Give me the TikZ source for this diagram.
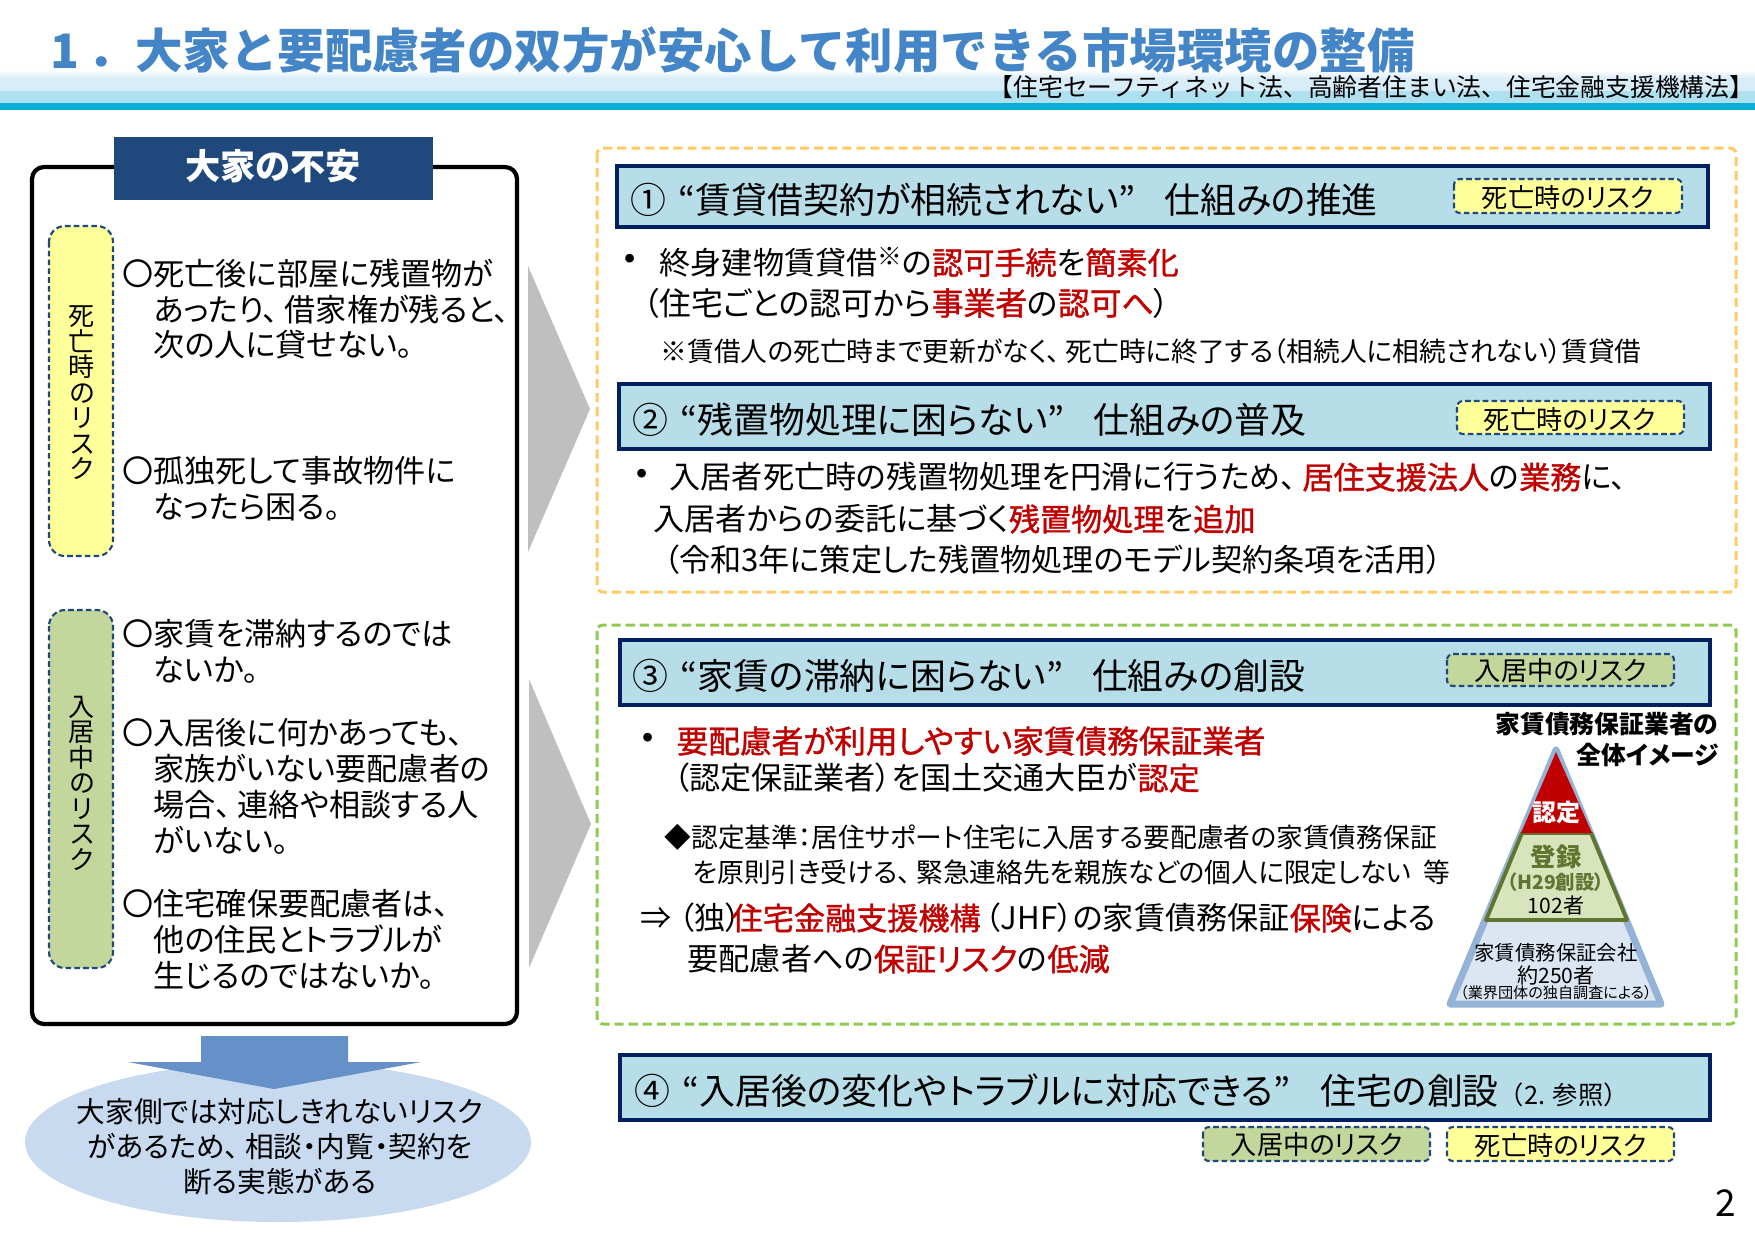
\documentclass[tikz,border=0pt]{standalone}
\usepackage{fontspec}
\setmainfont[RawFeature=+palt]{Noto Sans CJK JP}
\newfontfamily\plainjp{Noto Sans CJK JP}
\newfontfamily\redjp[RawFeature=+palt, FakeBold=1.2]{Noto Sans CJK JP}
\definecolor{titleblue}{HTML}{4485C7}
\definecolor{navy}{HTML}{1F497D}
\definecolor{boxnavy}{HTML}{002060}
\definecolor{hdrfill}{HTML}{B7DDE8}
\definecolor{deathfill}{HTML}{FFFF99}
\definecolor{stayfill}{HTML}{C3D69B}
\definecolor{orangedash}{HTML}{FFC965}
\definecolor{greendash}{HTML}{8FCB50}
\definecolor{redtxt}{HTML}{C00000}
\definecolor{pyrline}{HTML}{95B3D7}
\definecolor{pyrfill}{HTML}{DCE6F2}
\definecolor{regfill}{HTML}{D7E4BC}
\definecolor{regline}{HTML}{5F7530}
\definecolor{bandlight}{HTML}{D9EDF9}
\definecolor{bandmid}{HTML}{AFE0EF}
\definecolor{bandteal}{HTML}{0AADD3}
\definecolor{arrowblue}{HTML}{6590C8}
\definecolor{ovalblue}{HTML}{C8DAEF}
\newcommand{\rd}[1]{\textcolor{redtxt}{\redjp #1}}
\newcommand{\maru}{\makebox[0pt][r]{〇}}
\newcommand{\tn}{、\hspace{.2em}}
\tikzset{
  txt/.style={inner sep=0pt, anchor=north west, align=left, font=\fontsize{8.85}{10.2}\selectfont},
  bodyline/.style={inner sep=0pt, anchor=west, font=\fontsize{8.85}{10.2}\selectfont},
  noteline/.style={inner sep=0pt, anchor=west, font=\fontsize{7.6}{9}\selectfont},
  hdrbox/.style={draw=boxnavy, fill=hdrfill, line width=1pt},
  hdrtext/.style={inner sep=0pt, anchor=west, font=\fontsize{10.2}{12}\selectfont},
  tagtext/.style={inner sep=0pt, font=\fontsize{7.45}{8}\selectfont},
  vertext/.style={inner sep=0pt, align=center, font=\fontsize{7.4}{7.25}\selectfont},
  riskbox/.style={draw=navy, line width=.6pt, dash pattern=on 1.6pt off .9pt, rounded corners=1.6mm},
  tagbox/.style={draw=navy, line width=.6pt, dash pattern=on 1.6pt off .9pt, rounded corners=.6mm},
}
\begin{document}
\begin{tikzpicture}[x=0.01cm, y=-0.01cm]
    \useasboundingbox (0,0) rectangle (1755,1241);

    % Banda del titulo
    \shade[top color=white, bottom color=bandlight] (0,70) rectangle (1755,78);
    \fill[bandlight] (0,78) rectangle (1755,91);
    \fill[bandmid] (0,91) rectangle (1755,103);
    \fill[bandteal] (0,103) rectangle (1755,110);
    \node (titulo) [inner sep=0pt, anchor=west, text=titleblue, font=\fontsize{13.5}{16}\selectfont\plainjp\bfseries] at (50,50) {1\hspace{.17em}．大家と要配慮者の双方が安心して利用できる市場環境の整備};
    \node (leyes) [inner sep=0pt, anchor=east, font=\fontsize{7.05}{8}\selectfont\plainjp] at (1755,87) {【住宅セーフティネット法、高齢者住まい法、住宅金融支援機構法】};

    % Caja izquierda
    \draw[line width=1.2pt, rounded corners=1.2mm] (32,167) rectangle (517,1024);
    \fill[navy] (114,137) rectangle (433,200);
    \node (fuan) [inner sep=0pt, text=white, font=\fontsize{10}{12}\selectfont\bfseries] at (273,166) {大家の不安};

    \draw[riskbox, fill=deathfill] (49,226) rectangle (113,556);
    \node (shibou) [vertext] at (82,393) {死\\亡\\時\\の\\リ\\ス\\ク};
    \draw[riskbox, fill=stayfill] (49,610) rectangle (113,968);
    \node (nyukyo) [vertext] at (82,783) {入\\居\\中\\の\\リ\\ス\\ク};

    \node (fuan1) [txt] at (153,258) {\maru 死亡後に部屋に残置物が\\あったり\tn 借家権が残ると、\\次の人に貸せない。};
    \node (fuan2) [txt] at (153,456) {\maru 孤独死して事故物件に\\なったら困る。};
    \node (fuan3) [txt] at (153,619) {\maru 家賃を滞納するのでは\\ないか。};
    \node (fuan4) [txt] at (153,718) {\maru 入居後に何かあっても、\\家族がいない要配慮者の\\場合\tn 連絡や相談する人\\がいない。};
    \node (fuan5) [txt] at (153,889) {\maru 住宅確保要配慮者は、\\他の住民とトラブルが\\生じるのではないか。};

    % Elipse y flecha
    \fill[ovalblue] (278,1142) ellipse (253 and 80);
    \fill[arrowblue] (201,1036) -- (348,1036) -- (348,1062) -- (421,1062) -- (274,1089) -- (128,1062) -- (201,1062) -- cycle;
    \node (elipse) [inner sep=0pt, align=center, font=\fontsize{8.15}{9.9}\selectfont] at (280,1147) {大家側では対応しきれないリスク\\があるため\tn 相談・内覧・契約を\\断る実態がある};

    % Triangulos grises
    \fill[black!25] (528,266) -- (590,409) -- (528,552) -- cycle;
    \fill[black!25] (529,679) -- (591,824) -- (529,968) -- cycle;

    % Recuadros punteados
    \draw[orangedash, line width=.85pt, dash pattern=on 2.6pt off 1.4pt, rounded corners=.6mm] (597,148) rectangle (1736,592);
    \draw[greendash, line width=.85pt, dash pattern=on 2.6pt off 1.4pt, rounded corners=.6mm] (597,625) rectangle (1736,1024);

    % Cabeceras
    \draw[hdrbox] (617,166) rectangle (1708,227);
    \draw[hdrbox] (619,384) rectangle (1710,449);
    \draw[hdrbox] (620,640) rectangle (1710,705);
    \draw[hdrbox] (620,1055) rectangle (1710,1120);
    \node (cab1) [hdrtext] at (630,200) {①\hspace{.34em}“賃貸借契約が相続されない”\hspace{.8em}仕組みの推進};
    \node (cab2) [hdrtext] at (632,420) {②\hspace{.34em}“残置物処理に困らない”\hspace{.8em}仕組みの普及};
    \node (cab3) [hdrtext] at (632,676) {③\hspace{.34em}“家賃の滞納に困らない”\hspace{.8em}仕組みの創設};
    \node (cab4) [hdrtext] at (634,1091) {④\hspace{.34em}“入居後の変化やトラブルに対応できる”\hspace{.85em}住宅の創設{\fontsize{7.2}{8}\selectfont\plainjp（2. 参照）}};

    % Etiquetas de riesgo
    \draw[tagbox, fill=deathfill] (1454,179) rectangle (1682,213);
    \node (tag1) [tagtext] at (1568,197) {死亡時のリスク};
    \draw[tagbox, fill=deathfill] (1457,401) rectangle (1684,434);
    \node (tag2) [tagtext] at (1570,419) {死亡時のリスク};
    \draw[tagbox, fill=stayfill] (1447,654) rectangle (1674,686);
    \node (tag3) [tagtext] at (1561,671) {入居中のリスク};
    \draw[tagbox, fill=stayfill] (1203,1127) rectangle (1430,1161);
    \node (tag4) [tagtext] at (1317,1145) {入居中のリスク};
    \draw[tagbox, fill=deathfill] (1447,1127) rectangle (1674,1161);
    \node (tag5) [tagtext] at (1561,1145) {死亡時のリスク};

    % Primer bloque
    \node (p1a) [bodyline] at (622,262) {\textbf{・}};
    \node (p1b) [bodyline] at (659,262) {終身建物賃貸借\raisebox{.55ex}{\fontsize{7}{7}\selectfont ※}の\rd{認可手続}を\rd{簡素化}};
    \node (p1c) [bodyline, font=\fontsize{9.05}{10.2}\selectfont] at (643,303) {（住宅ごとの認可から\rd{事業者}の\rd{認可へ}）};
    \node (p1d) [noteline] at (660,351) {※賃借人の死亡時まで更新がなく\tn 死亡時に終了する（相続人に相続されない）賃貸借};

    % Segundo bloque
    \node (p2a) [bodyline] at (634,477) {\textbf{・}};
    \node (p2b) [bodyline] at (669,477) {入居者死亡時の残置物処理を円滑に行うため\tn\rd{居住支援法人}の\rd{業務}に、};
    \node (p2c) [bodyline] at (653,519) {入居者からの委託に基づく\rd{残置物処理}を\rd{追加}};
    \node (p2d) [bodyline] at (663,560) {（令和3年に策定した残置物処理のモデル契約条項を活用）};

    % Tercer bloque
    \node (p3a) [bodyline] at (640,741) {\textbf{・}};
    \node (p3b) [bodyline, font=\fontsize{9}{10.2}\selectfont] at (676,741) {\rd{要配慮者が利用しやすい家賃債務保証業者}};
    \node (p3c) [bodyline] at (673,778) {（認定保証業者）を国土交通大臣が\rd{認定}};
    \node (p3d) [noteline] at (664,837) {◆認定基準：居住サポート住宅に入居する要配慮者の家賃債務保証};
    \node (p3e) [noteline] at (692,872) {を原則引き受ける\tn 緊急連絡先を親族などの個人に限定しない\ \ 等};
    \node (p3f) [bodyline] at (640,918) {⇒ （独）\hspace{-.3em}\rd{住宅金融支援機構}\hspace{.15em}（JHF）の家賃債務保証\rd{保険}による};
    \node (p3g) [bodyline] at (687,959) {要配慮者への\rd{保証リスク}の\rd{低減}};

    % Piramide
    \node (piratit) [inner sep=0pt, anchor=north east, align=right, font=\fontsize{7.05}{8.6}\selectfont\bfseries] at (1719,712) {家賃債務保証業者の\\全体イメージ};
    \draw[pyrline, fill=pyrfill, line width=2pt, line join=round] (1556,750) -- (1661,1004) -- (1450,1004) -- cycle;
    \draw[regline, fill=regfill, line width=1.1pt, line join=round] (1522,833) -- (1591,833) -- (1627,920) -- (1486,920) -- cycle;
    \fill[redtxt] (1556,752) -- (1592,833) -- (1521,833) -- cycle;
    \node (nintei) [inner sep=0pt, text=white, font=\fontsize{6.8}{8}\selectfont\bfseries] at (1556,812) {認定};
    \node (toroku) [inner sep=0pt, text=regline, font=\fontsize{7.2}{8}\selectfont\bfseries] at (1556,857) {登録};
    \node (h29) [inner sep=0pt, text=regline, font=\fontsize{5.5}{6}\selectfont\bfseries] at (1556,882) {（H29創設）};
    \node (n102) [inner sep=0pt, font=\fontsize{6}{7}\selectfont] at (1556,905) {102者};
    \node (kaisha) [inner sep=0pt, font=\fontsize{5.8}{7}\selectfont] at (1556,953) {家賃債務保証会社};
    \node (n250) [inner sep=0pt, font=\fontsize{6}{7}\selectfont] at (1556,975) {約250者};
    \node (chosa) [inner sep=0pt, font=\fontsize{4.3}{5}\selectfont] at (1556,993) {（業界団体の独自調査による）};

    % Numero de pagina
    \node (pagina) [inner sep=0pt, font=\fontsize{10.5}{12}\selectfont] at (1726,1203) {2};
\end{tikzpicture}
\end{document}
